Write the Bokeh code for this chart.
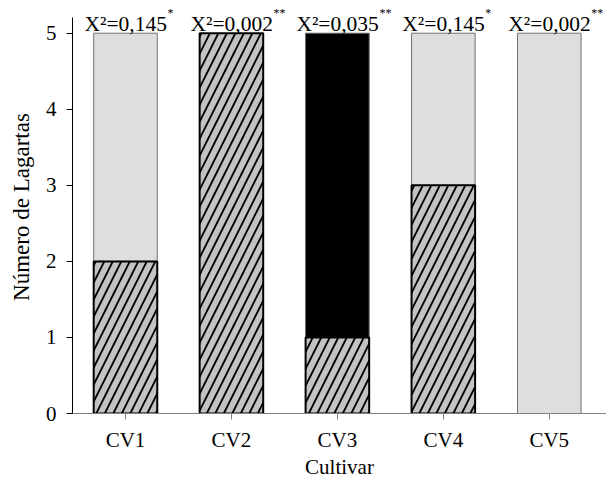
import numpy as np
from bokeh.plotting import figure
from bokeh.models import Range1d, FixedTicker, ColumnDataSource
from bokeh.core.properties import value
from bokeh.embed import file_html
from bokeh.resources import INLINE

# ---- data ----
cultivars = ["CV1", "CV2", "CV3", "CV4", "CV5"]
hatched_vals = [2, 5, 1, 3, 0]
black_vals = [0, 0, 4, 0, 0]
gray_vals = [3, 0, 0, 2, 5]
chi_labels = ["X²=0,145", "X²=0,002", "X²=0,035", "X²=0,145", "X²=0,002"]
sig_labels = ["*", "**", "**", "*", "**"]
y_ticks = [0, 1, 2, 3, 4, 5]

xpos = np.arange(1, len(cultivars) + 1)
h = np.array(hatched_vals, dtype=float)
b = np.array(black_vals, dtype=float)
g = np.array(gray_vals, dtype=float)
totals = h + b + g

FONT = "Liberation Serif"

p = figure(frame_width=534, frame_height=413, output_backend="svg", toolbar_location=None,
           x_range=Range1d(0.5, 5.54), y_range=Range1d(0, 5.43),
           min_border_left=72, min_border_right=0, min_border_top=0,
           min_border_bottom=62)
p.outline_line_color = None
p.grid.visible = False
p.background_fill_color = "white"


def seg(vals, bottoms):
    m = vals > 0
    return ColumnDataSource(dict(x=xpos[m], bottom=bottoms[m], top=(bottoms + vals)[m]))


# light gray segment (top)
p.vbar(x="x", bottom="bottom", top="top", width=0.6, source=seg(g, h + b),
       fill_color="#dedede", line_color="#707070", line_width=1)
# black segment
p.vbar(x="x", bottom="bottom", top="top", width=0.6, source=seg(b, h),
       fill_color="black", line_color="#606060", line_width=1)
# hatched segment (bottom)
p.vbar(x="x", bottom="bottom", top="top", width=0.6, source=seg(h, np.zeros_like(h)),
       fill_color="#c3c3c3", line_color="black", line_width=2,
       hatch_pattern="/", hatch_color="black", hatch_weight=1.8, hatch_scale=17)

# chi-square labels
lab_src = ColumnDataSource(dict(x=xpos, y=totals, t=chi_labels, s=sig_labels))
p.text(x="x", y="y", text="t", source=lab_src, text_align="left",
       text_baseline="alphabetic", x_offset=-41, y_offset=-9,
       text_font=value(FONT), text_font_size="21.5px", text_color="black")
p.text(x="x", y="y", text="s", source=lab_src, text_align="left",
       text_baseline="alphabetic", x_offset=42, y_offset=-20,
       text_font=value(FONT), text_font_size="12px", text_color="black")

# axes
xa = p.xaxis[0]
xa.ticker = FixedTicker(ticks=list(xpos))
xa.major_label_overrides = {int(i): c for i, c in zip(xpos, cultivars)}
xa.axis_label = "Cultivar"
xa.axis_line_color = "#808080"
xa.major_tick_line_color = "#808080"
xa.major_tick_in = 0
xa.major_tick_out = 6
xa.minor_tick_line_color = None
xa.major_label_text_font = FONT
xa.major_label_text_font_size = "21px"
xa.major_label_text_color = "black"
xa.major_label_standoff = 8
xa.axis_label_text_font = FONT
xa.axis_label_text_font_size = "21px"
xa.axis_label_text_font_style = "normal"
xa.axis_label_text_color = "black"
xa.axis_label_standoff = 0

ya = p.yaxis[0]
ya.ticker = FixedTicker(ticks=y_ticks)
ya.bounds = (0, 5.2)
ya.axis_label = "Número de Lagartas"
ya.axis_line_color = "black"
ya.major_tick_line_color = "black"
ya.major_tick_in = 0
ya.major_tick_out = 6
ya.minor_tick_line_color = None
ya.major_label_text_font = FONT
ya.major_label_text_font_size = "21px"
ya.major_label_text_color = "black"
ya.major_label_standoff = 10
ya.axis_label_text_font = FONT
ya.axis_label_text_font_size = "23px"
ya.axis_label_text_font_style = "normal"
ya.axis_label_text_color = "black"
ya.axis_label_standoff = 9

open("out.html", "w").write(file_html(p, INLINE))
